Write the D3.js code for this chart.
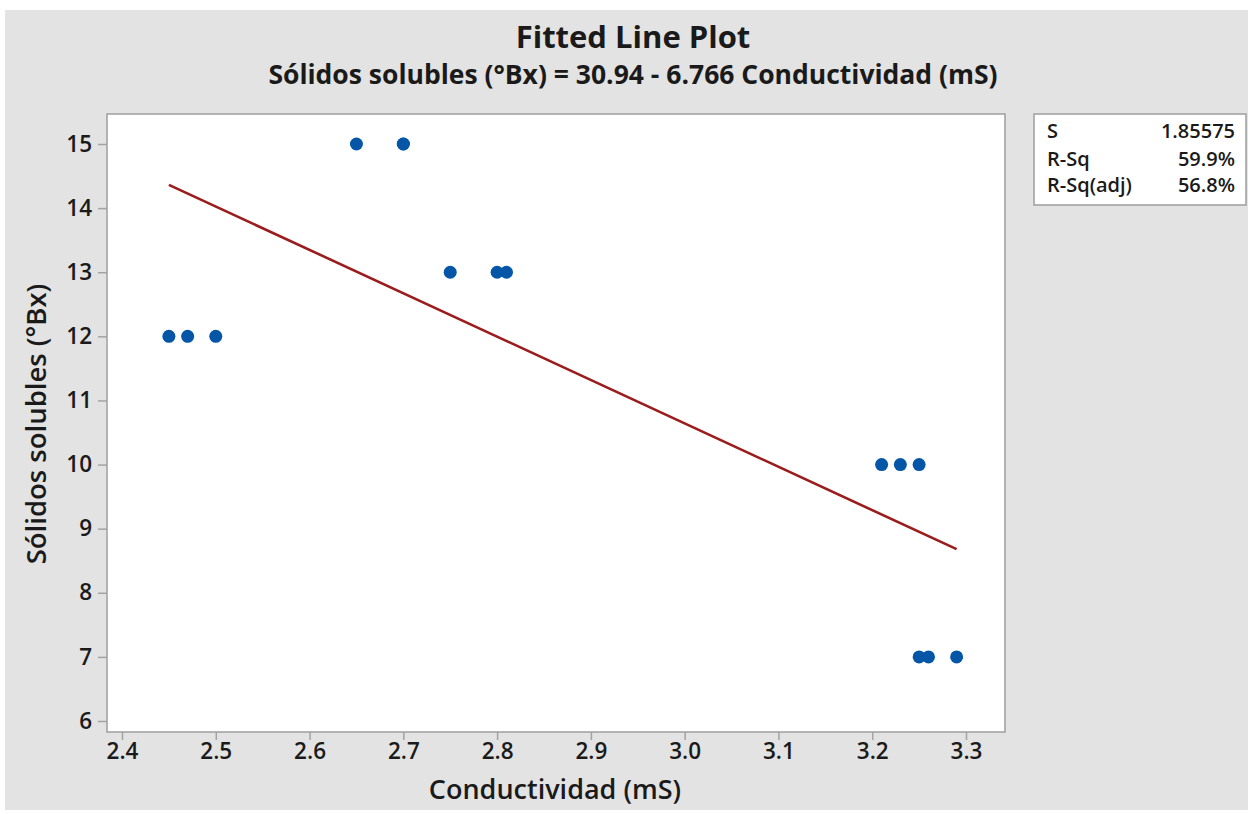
<!DOCTYPE html>
<html>
<head>
<meta charset="utf-8">
<script src="https://cdn.jsdelivr.net/npm/d3@7"></script>
<style>
  html, body { margin: 0; padding: 0; background: #ffffff; }
  svg { display: block; }
  text { font-family: "Open Sans", "Noto Sans", sans-serif; fill: #1a1a1a; }
</style>
</head>
<body>
<svg id="chart" width="1248" height="814"></svg>
<script>
// ---- data ----
const conductividad = [2.45, 2.47, 2.50, 2.65, 2.70, 2.70, 2.75, 2.80, 2.81, 3.21, 3.23, 3.25, 3.25, 3.26, 3.29];
const solidos       = [12,   12,   12,   15,   15,   15,   13,   13,   13,   10,   10,   10,   7,    7,    7];
const fitX = [2.45, 3.29];
const fitY = [14.363, 8.680];
const xTicks = [2.4, 2.5, 2.6, 2.7, 2.8, 2.9, 3.0, 3.1, 3.2, 3.3];
const yTicks = [6, 7, 8, 9, 10, 11, 12, 13, 14, 15];
const statLabels = ["S", "R-Sq", "R-Sq(adj)"];
const statValues = ["1.85575", "59.9%", "56.8%"];
const titleText = "Fitted Line Plot";
const subtitleText = "Sólidos solubles (°Bx) = 30.94 - 6.766 Conductividad (mS)";
const xLabel = "Conductividad (mS)";
const yLabel = "Sólidos solubles (°Bx)";

// ---- layout ----
const svg = d3.select("#chart");
const plot = { left: 107, top: 114, right: 1005, bottom: 732 };
const x = d3.scaleLinear().domain([2.4, 3.3]).range([122, 966]);
const y = d3.scaleLinear().domain([6, 15]).range([721, 144]);
const frameColor = "#a3a3a3";

// background
svg.append("rect").attr("x", 5).attr("y", 10).attr("width", 1243).attr("height", 800).attr("fill", "#e3e3e3");

// plot area
svg.append("rect")
  .attr("x", plot.left).attr("y", plot.top)
  .attr("width", plot.right - plot.left).attr("height", plot.bottom - plot.top)
  .attr("fill", "#ffffff").attr("stroke", frameColor).attr("stroke-width", 1.6);

// axes
const xAxis = svg.append("g").attr("transform", `translate(0,${plot.bottom})`)
  .call(d3.axisBottom(x).tickValues(xTicks).tickFormat(d3.format(".1f")).tickSize(8).tickPadding(3));
const yAxis = svg.append("g").attr("transform", `translate(${plot.left},0)`)
  .call(d3.axisLeft(y).tickValues(yTicks).tickFormat(d3.format("d")).tickSize(9).tickPadding(6));
[xAxis, yAxis].forEach(g => {
  g.select(".domain").remove();
  g.selectAll(".tick line").attr("stroke", frameColor).attr("stroke-width", 1.5);
  g.selectAll(".tick text").attr("font-family", "'Open Sans', sans-serif").attr("font-size", 22.5)
    .attr("font-weight", 600).attr("fill", "#1a1a1a");
});

// fitted line
const fitData = fitX.map((d, i) => ({ x: d, y: fitY[i] }));
svg.append("path").datum(fitData)
  .attr("d", d3.line().x(d => x(d.x)).y(d => y(d.y)))
  .attr("stroke", "#9b1c1c").attr("stroke-width", 2.6).attr("fill", "none");

// points
svg.append("g").selectAll("circle").data(conductividad.map((d, i) => ({ x: d, y: solidos[i] })))
  .join("circle")
  .attr("cx", d => x(d.x)).attr("cy", d => y(d.y)).attr("r", 6.5)
  .attr("fill", "#0556a6");

// titles
svg.append("text").attr("x", 633).attr("y", 48).attr("text-anchor", "middle")
  .attr("font-size", 31).attr("font-weight", 700).text(titleText);
svg.append("text").attr("x", 633).attr("y", 84).attr("text-anchor", "middle")
  .attr("font-size", 26.5).attr("font-weight", 700).text(subtitleText);

// axis labels
svg.append("text").attr("x", 555).attr("y", 799).attr("text-anchor", "middle")
  .attr("font-size", 27).attr("font-weight", 600).text(xLabel);
svg.append("text").attr("transform", "translate(46,424) rotate(-90)").attr("text-anchor", "middle")
  .attr("font-size", 27.5).attr("font-weight", 600).text(yLabel);

// stats box
svg.append("rect").attr("x", 1034).attr("y", 114).attr("width", 212).attr("height", 91)
  .attr("fill", "#ffffff").attr("stroke", frameColor).attr("stroke-width", 1.6);
const rowY = [138, 165.5, 192];
svg.append("g").selectAll("text").data(statLabels).join("text")
  .attr("x", 1047).attr("y", (d, i) => rowY[i]).attr("font-size", 20).attr("font-weight", 600).text(d => d);
svg.append("g").selectAll("text").data(statValues).join("text")
  .attr("x", 1235).attr("y", (d, i) => rowY[i]).attr("text-anchor", "end")
  .attr("font-size", 20).attr("font-weight", 600).text(d => d);
</script>
</body>
</html>
